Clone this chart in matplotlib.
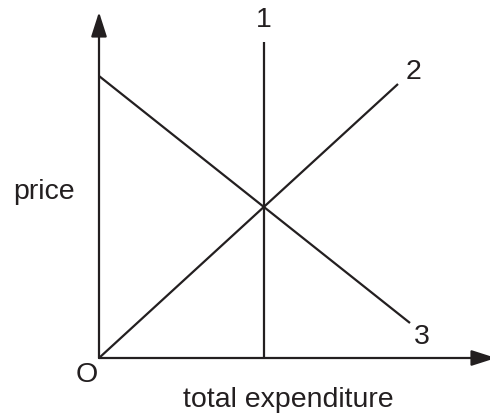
import matplotlib.pyplot as plt

plt.rcParams['font.family'] = ['Liberation Sans', 'DejaVu Sans']

ink = '#231f20'

# axis extents (origin O at 0,0)
x_axis_end = 397
y_axis_end = 346

# line endpoints
line1_x = [165, 165]
line1_y = [0, 316]
line2_x = [0, 299]
line2_y = [0, 274]
line3_x = [0, 311]
line3_y = [282, 35]

labels = ['1', '2', '3']
label_x = [165, 314, 323]
label_y = [338, 286, 21]

fig = plt.figure(figsize=(4.9, 4.16), dpi=100)
ax = fig.add_axes([99 / 490, 58 / 416, 391 / 490, 346 / 416])
ax.set_xlim(0, 391)
ax.set_ylim(0, y_axis_end)
ax.axis('off')

arrow = dict(arrowstyle='-|>,head_length=0.75,head_width=0.24', lw=1.6,
             color=ink, shrinkA=0, shrinkB=0, mutation_scale=20)
ax.annotate('', xy=(x_axis_end, 0), xytext=(0, 0), arrowprops=arrow,
            annotation_clip=False)
ax.annotate('', xy=(0, y_axis_end), xytext=(0, 0), arrowprops=arrow,
            annotation_clip=False)

for xs, ys in [(line1_x, line1_y), (line2_x, line2_y), (line3_x, line3_y)]:
    ax.plot(xs, ys, color=ink, lw=1.6, solid_capstyle='butt', clip_on=False)

for lab, lx, ly in zip(labels, label_x, label_y):
    ax.text(lx, ly, lab, fontsize=20.5, color=ink, ha='center', va='center')

ax.text(-12, -17, 'O', fontsize=20.5, color=ink, ha='center', va='center')
ax.text(-55, 166, 'price', fontsize=20.5, color=ink, ha='center', va='center')
ax.text(189, -42, 'total expenditure', fontsize=20.5, color=ink,
        ha='center', va='center')

fig.savefig('out.png', dpi=100)
